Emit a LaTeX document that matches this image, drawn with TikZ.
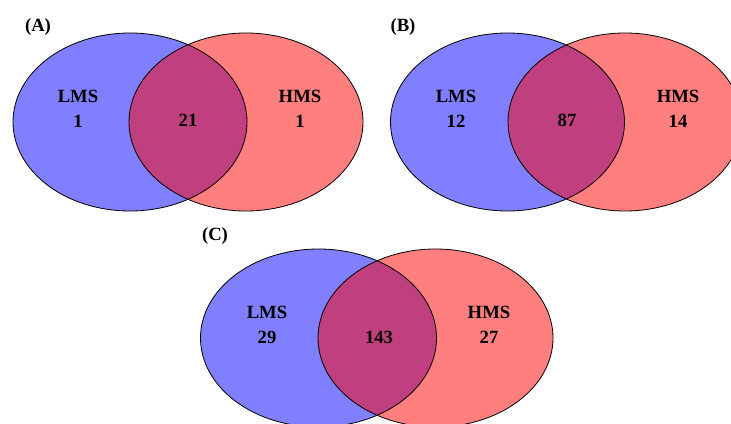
\documentclass[tikz,border=0pt]{standalone}
\usepackage{fontspec}
\setmainfont{Liberation Serif}
\definecolor{lmsblue}{HTML}{7F7FFF}
\definecolor{hmsred}{HTML}{FF7F7F}
\definecolor{bothpurple}{HTML}{BF3F7F}
\tikzset{
  setlabel/.style={font=\fontsize{14}{18.75}\selectfont\bfseries, align=center},
  panellabel/.style={font=\fontsize{14}{18}\selectfont\bfseries},
  setline/.style={draw=black, line width=0.6pt},
}
\begin{document}
\begin{tikzpicture}[x=0.75pt, y=-0.75pt]
      \useasboundingbox (0,0) rectangle (731,424);
      % (A)
      \fill[lmsblue] (130,122) ellipse [x radius=117, y radius=89];
      \fill[hmsred] (246,122) ellipse [x radius=117, y radius=89];
      \begin{scope}
        \clip (130,122) ellipse [x radius=117, y radius=89];
        \fill[bothpurple] (246,122) ellipse [x radius=117, y radius=89];
      \end{scope}
      \draw[setline] (130,122) ellipse [x radius=117, y radius=89];
      \draw[setline] (246,122) ellipse [x radius=117, y radius=89];
      \draw
        (38,27) node[panellabel] (labA){(A)}
        (78,109) node[setlabel] (lmsA){LMS\\1}
        (188,120) node[setlabel] (bothA){21}
        (300,109) node[setlabel] (hmsA){HMS\\1};
      % (B)
      \fill[lmsblue] (507.5,122) ellipse [x radius=117, y radius=89];
      \fill[hmsred] (625,122) ellipse [x radius=117, y radius=89];
      \begin{scope}
        \clip (507.5,122) ellipse [x radius=117, y radius=89];
        \fill[bothpurple] (625,122) ellipse [x radius=117, y radius=89];
      \end{scope}
      \draw[setline] (507.5,122) ellipse [x radius=117, y radius=89];
      \draw[setline] (625,122) ellipse [x radius=117, y radius=89];
      \draw
        (403,27) node[panellabel] (labB){(B)}
        (456,109) node[setlabel] (lmsB){LMS\\12}
        (567,120) node[setlabel] (bothB){87}
        (678,109) node[setlabel] (hmsB){HMS\\14};
      % (C)
      \fill[lmsblue] (318.5,338) ellipse [x radius=118, y radius=89];
      \fill[hmsred] (435.5,338) ellipse [x radius=117.5, y radius=89];
      \begin{scope}
        \clip (318.5,338) ellipse [x radius=118, y radius=89];
        \fill[bothpurple] (435.5,338) ellipse [x radius=117.5, y radius=89];
      \end{scope}
      \draw[setline] (318.5,338) ellipse [x radius=118, y radius=89];
      \draw[setline] (435.5,338) ellipse [x radius=117.5, y radius=89];
      \draw
        (215,236) node[panellabel] (labC){(C)}
        (267,325) node[setlabel] (lmsC){LMS\\29}
        (379,337) node[setlabel] (bothC){143}
        (489,325) node[setlabel] (hmsC){HMS\\27};
    \end{tikzpicture}
\end{document}
